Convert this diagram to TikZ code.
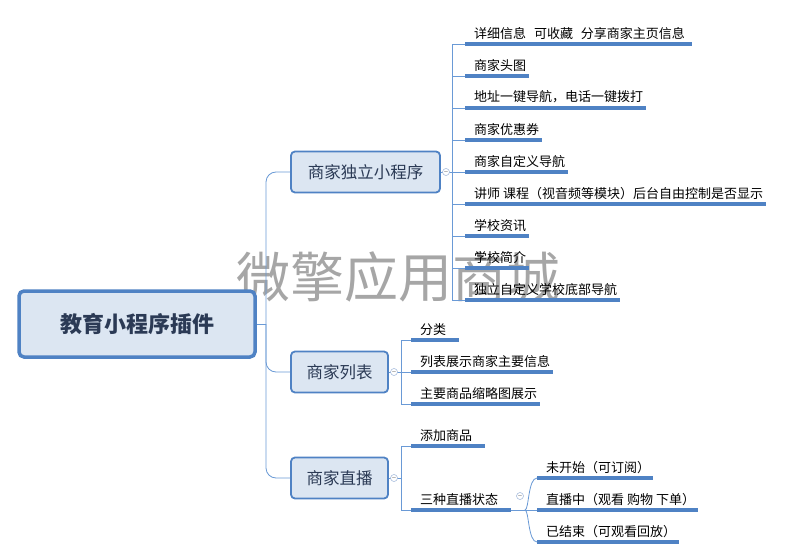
\documentclass[tikz,border=0pt]{standalone}
\usepackage{fontspec}
\setmainfont{Noto Sans CJK SC}
\begin{document}
\begin{tikzpicture}[x=1pt,y=-1pt,
  conn/.style={draw=lineblue,line width=0.8pt},
  ul/.style={draw=ulblue,line width=3.2pt},
  leaf/.style={anchor=south west,inner xsep=0pt,inner ysep=4.5pt,font=\fontsize{13}{15}\selectfont,text=black},
  lvl/.style={draw=ulblue,line width=1.8pt,fill=boxfill,rounded corners=4pt,font=\fontsize{16.5}{18}\selectfont,text=textdark,inner sep=0pt},
  coll/.style={circle,draw=collc,line width=0.5pt,minimum size=7pt,inner sep=0pt,fill=white},
]
\definecolor{lineblue}{HTML}{6A9AD6}
\definecolor{ulblue}{HTML}{4F82C4}
\definecolor{boxfill}{HTML}{DCE6F2}
\definecolor{textdark}{HTML}{2B3A55}
\definecolor{collc}{HTML}{9BB3D8}
\useasboundingbox (0,0) rectangle (793,559);
\fill[white] (0,0) rectangle (793,559);
% watermark
\node[text=black!35,font=\fontsize{54}{58}\selectfont] (wm) at (398,277) {微擎应用商城};
% root
\node[draw=ulblue,line width=3.5pt,fill=boxfill,rounded corners=5pt,minimum width=236pt,minimum height=66pt,font=\fontsize{22}{24}\selectfont\bfseries,text=textdark] (root) at (137,324) {教育小程序插件};
% level 1
\node[lvl,minimum width=149pt,minimum height=41pt] (a) at (365.5,172) {商家独立小程序};
\node[lvl,minimum width=97pt,minimum height=41pt] (b) at (339.5,372) {商家列表};
\node[lvl,minimum width=97pt,minimum height=41pt] (c) at (339.5,478) {商家直播};
\coordinate (r0) at (266,324);
\draw[conn] (root.east) -- (r0);
\draw[conn,rounded corners=10pt] (r0) |- (a.west);
\draw[conn,rounded corners=10pt] (r0) |- (b.west);
\draw[conn,rounded corners=10pt] (r0) |- (c.west);
% group 1
\def\lf#1#2#3{\node[leaf] (#1) at (465,#2) {\hspace*{9pt}#3\hspace*{3pt}}; \draw[ul] (#1.south west) -- (#1.south east);}
\lf{a1}{44}{详细信息\hspace{0.6em}可收藏\hspace{0.6em}分享商家主页信息\hspace*{4pt}}
\lf{a2}{76}{商家头图}
\lf{a3}{108}{地址一键导航，电话一键拨打}
\lf{a4}{140}{商家优惠券}
\lf{a5}{172}{商家自定义导航}
\lf{a6}{204}{讲师 课程（视音频等模块）后台自由控制是否显示}
\lf{a7}{236}{学校资讯}
\lf{a8}{268}{学校简介}
\lf{a9}{300}{独立自定义学校底部导航}
\coordinate (va) at (452,172);
\draw[conn] (a.east) -- (va);
\foreach \n in {a1,a2,a3,a4,a5,a6,a7,a8,a9} \draw[conn] (va) |- (\n.south west);
\node[coll] (ca) at (446,172) {\tiny$-$};
% group 2
\def\lg#1#2#3{\node[leaf] (#1) at (411,#2) {\hspace*{9pt}#3\hspace*{3pt}}; \draw[ul] (#1.south west) -- (#1.south east);}
\lg{b1}{340}{分类\hspace*{10pt}}
\lg{b2}{372}{列表展示商家主要信息}
\lg{b3}{404}{主要商品缩略图展示}
\coordinate (vb) at (401,372);
\draw[conn] (b.east) -- (vb);
\foreach \n in {b1,b2,b3} \draw[conn] (vb) |- (\n.south west);
\node[coll] (cb) at (394,372) {\tiny$-$};
% group 3
\lg{c1}{446}{添加商品\hspace*{10pt}}
\lg{c2}{510}{三种直播状态\hspace*{10pt}}
\coordinate (vc) at (401,478);
\draw[conn] (c.east) -- (vc);
\foreach \n in {c1,c2} \draw[conn] (vc) |- (\n.south west);
\node[coll] (cc) at (394,478) {\tiny$-$};
% sub group
\def\lh#1#2#3{\node[leaf] (#1) at (537,#2) {\hspace*{9pt}#3\hspace*{3pt}}; \draw[ul] (#1.south west) -- (#1.south east);}
\lh{d1}{478}{未开始（可订阅）}
\lh{d2}{510}{直播中（观看 购物 下单）}
\lh{d3}{542}{已结束（可观看回放）}
\coordinate (vd) at (525,510);
\draw[conn] (c2.south east) -- (vd);
\draw[conn] (vd) .. controls (529,510) and (528,478) .. (d1.south west);
\draw[conn] (vd) -- (d2.south west);
\draw[conn] (vd) .. controls (529,510) and (528,542) .. (d3.south west);
\node[coll] (cd) at (520,496) {\tiny$-$};
\end{tikzpicture}
\end{document}
